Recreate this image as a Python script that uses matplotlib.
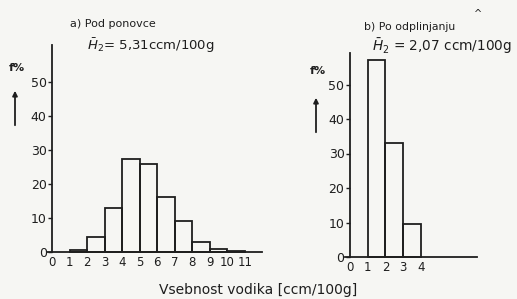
import numpy as np
import matplotlib.pyplot as plt

# a) Pod ponovce - razredi [ccm/100g] in deleži f%
a_edges = [1, 2, 3, 4, 5, 6, 7, 8, 9, 10]
a_f = [0.5, 4.4, 13.0, 27.4, 26.0, 16.2, 9.0, 3.0, 0.8, 0.3]
a_ticks = list(range(0, 12))

# b) Po odplinjanju
b_edges = [1, 2, 3]
b_f = [57.0, 33.0, 9.6]
b_ticks = list(range(0, 5))

y_ticks = [0, 10, 20, 30, 40, 50]

W, H = 517, 299
bg = '#f6f6f3'
ink = '#1e1e1e'

fig = plt.figure(figsize=(W / 100, H / 100), dpi=100, facecolor=bg)


def px_axes(x0, y0_top, w, h):
    # x0, y0_top in pixels from top-left
    return fig.add_axes([x0 / W, (H - y0_top - h) / H, w / W, h / H])


def panel(ax, edges, f, ticks, xmax, ytop):
    ax.set_facecolor('none')
    ax.bar(edges, f, width=1, align='edge', fill=False, edgecolor=ink, linewidth=1.3)
    for s in ['top', 'right']:
        ax.spines[s].set_visible(False)
    ax.spines['left'].set_position(('data', 0))
    ax.spines['bottom'].set_position(('data', 0))
    ax.spines['left'].set_bounds(0, ytop)
    for s in ['left', 'bottom']:
        ax.spines[s].set_color(ink)
        ax.spines[s].set_linewidth(1.3)
    ax.set_xlim(-0.3, xmax)
    ax.set_ylim(-1, 62)
    ax.set_yticks(y_ticks)
    ax.set_xticks(ticks)
    ax.tick_params(axis='y', direction='out', length=3, width=1, colors=ink,
                   labelsize=9, pad=1)
    ax.tick_params(axis='x', length=0, labelsize=8.5, pad=3, colors=ink)


ax1 = px_axes(47, 41.2, 12.3 * 17.5, 63 * 3.4)
panel(ax1, a_edges, a_f, a_ticks, 12.0, 61)

ax2 = px_axes(344.7, 43.1, 7.5 * 17.7, 63 * 3.45)
panel(ax2, b_edges, b_f, b_ticks, 7.2, 59)

# naslovi
fig.text(70 / W, 1 - 24 / H, 'a) Pod ponovce', fontsize=8, color=ink, va='center')
fig.text(87 / W, 1 - 46 / H, r'$\bar{H}_2$= 5,31ccm/100g', fontsize=9.5, color=ink, va='center')
fig.text(364 / W, 1 - 27 / H, 'b) Po odplinjanju', fontsize=7.8, color=ink, va='center')
fig.text(372 / W, 1 - 46 / H, r'$\bar{H}_2$ = 2,07 ccm/100g', fontsize=9.8, color=ink, va='center')
fig.text(478 / W, 1 - 14 / H, '^', fontsize=7, color=ink, ha='center', va='center')

# f% z puščico
for xf, yl, ya, yb in [(17, 68, 128, 88), (318, 71, 135, 95)]:
    fig.text(xf / W, 1 - yl / H, 'f%', fontsize=8, color=ink, ha='center', va='center',
             fontweight='bold')
    fig.add_artist(plt.Annotation('', xy=((xf - 2) / W, 1 - yb / H),
                                  xytext=((xf - 2) / W, 1 - ya / H),
                                  xycoords='figure fraction',
                                  arrowprops=dict(arrowstyle='-|>', color=ink, lw=1.3,
                                                  mutation_scale=7)))

fig.text(258 / W, 1 - 290 / H, 'Vsebnost vodika [ccm/100g]', fontsize=10, color=ink,
         ha='center', va='center')

fig.savefig('out.png', dpi=100, facecolor=bg)
